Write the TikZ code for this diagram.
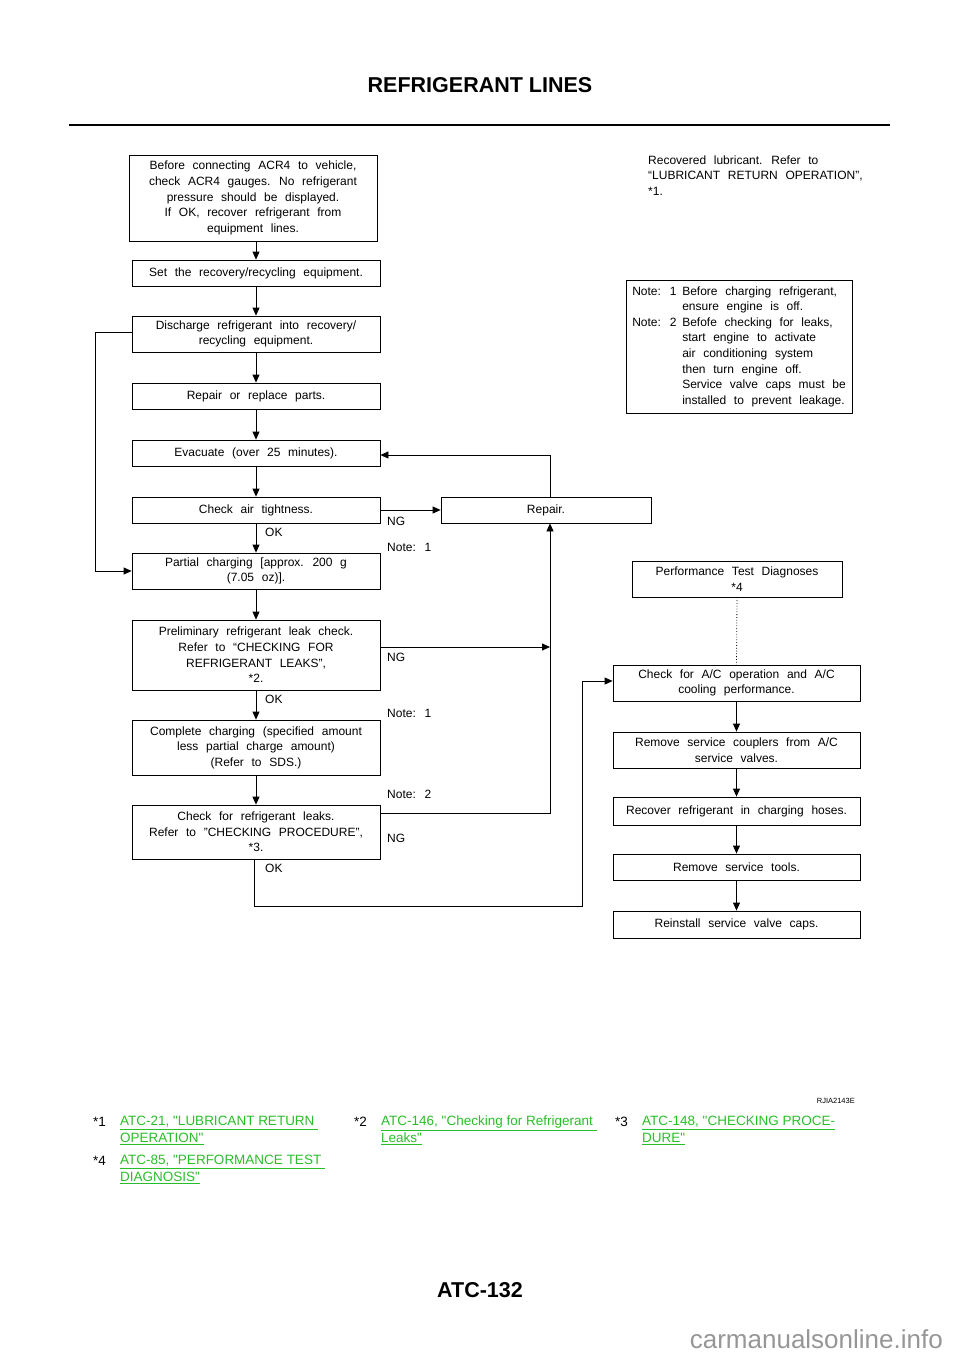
\documentclass[tikz,border=0pt]{standalone}
\usepackage{fontspec}
\setmainfont{Liberation Sans}[WordSpace=2.3]
\newfontfamily\plainfont{Liberation Sans}
\usetikzlibrary{arrows.meta}
\definecolor{linkgreen}{RGB}{40,190,40}
\definecolor{wmgray}{RGB}{150,150,150}
\newcommand\boxfont{\fontsize{12}{15.6}\selectfont}
\newcommand\footfont{\plainfont\fontsize{13.5}{17}\selectfont}
\begin{document}
\begin{tikzpicture}[x=1pt,y=-1pt,
  box/.style={draw, line width=0.8pt, inner sep=2pt, align=center, minimum width=248pt, font=\boxfont},
  rbox/.style={box, minimum width=247pt},
  arr/.style={-{Triangle[length=8pt,width=7pt]}, line width=0.8pt},
  lbl/.style={anchor=west, inner sep=0pt, font=\boxfont},
  foot/.style={anchor=west, inner sep=0pt, align=left, font=\footfont},
  link/.style={foot, text=linkgreen}]
\useasboundingbox (0,0) rectangle (960,1358);

% header
\node[font=\plainfont\bfseries\fontsize{21.5}{24}\selectfont] (title) at (480,85) {REFRIGERANT LINES};
\draw[line width=2.5pt] (69,125) -- (890,125);

% left column
\node[box, minimum height=86pt] (b1) at (253,198) {Before connecting ACR4 to vehicle,\\check ACR4 gauges. No refrigerant\\pressure should be displayed.\\If OK, recover refrigerant from\\equipment lines.};
\node[box, minimum height=26pt] (b2) at (256,273) {Set the recovery/recycling equipment.};
\node[box, minimum height=36pt] (b3) at (256,334) {Discharge refrigerant into recovery/\\recycling equipment.};
\node[box, minimum height=26pt] (b4) at (256,396) {Repair or replace parts.};
\node[box, minimum height=26pt] (b5) at (256,453) {Evacuate (over 25 minutes).};
\node[box, minimum height=26pt] (b6) at (256,510) {Check air tightness.};
\node[box, minimum height=36pt] (b7) at (256,571) {Partial charging [approx. 200 g\\(7.05 oz)].};
\node[box, minimum height=70pt] (b8) at (256,655) {Preliminary refrigerant leak check.\\Refer to “CHECKING FOR\\REFRIGERANT LEAKS”,\\*2.};
\node[box, minimum height=55pt] (b9) at (256,747.5) {Complete charging (specified amount\\less partial charge amount)\\(Refer to SDS.)};
\node[box, minimum height=54pt] (b10) at (256,832) {Check for refrigerant leaks.\\Refer to "CHECKING PROCEDURE",\\*3.};

\node[box, minimum width=210pt, minimum height=26pt] (rep) at (546,510) {Repair.};

% right column
\node[anchor=west, inner sep=0pt, align=left, font=\boxfont] (lub) at (648,175.5) {Recovered lubricant. Refer to\\“LUBRICANT RETURN OPERATION”,\\*1.};
\node[draw, line width=0.8pt, align=left, font=\boxfont, minimum width=226pt, minimum height=133pt, inner sep=0pt] (notes) at (739,346.5) {%
\makebox[50pt][l]{Note: 1}Before charging refrigerant,\\
\hspace*{50pt}ensure engine is off.\\
\makebox[50pt][l]{Note: 2}Befofe checking for leaks,\\
\hspace*{50pt}start engine to activate\\
\hspace*{50pt}air conditioning system\\
\hspace*{50pt}then turn engine off.\\
\hspace*{50pt}Service valve caps must be\\
\hspace*{50pt}installed to prevent leakage.};

\node[box, minimum width=210pt, minimum height=36pt] (perf) at (737,579) {Performance Test Diagnoses\\*4};
\node[rbox, minimum height=36pt] (ac) at (736.5,683) {Check for A/C operation and A/C\\cooling performance.};
\node[rbox, minimum height=36pt] (rsc) at (736.5,750) {Remove service couplers from A/C\\service valves.};
\node[rbox, minimum height=28pt] (rrc) at (736.5,811) {Recover refrigerant in charging hoses.};
\node[rbox, minimum height=26pt] (rst) at (736.5,867) {Remove service tools.};
\node[rbox, minimum height=27pt] (rvc) at (736.5,924.5) {Reinstall service valve caps.};

% labels
\node[lbl] (ok1) at (265,532) {OK};
\node[lbl] (ng1) at (387,521) {NG};
\node[lbl] (n1a) at (387,547) {Note: 1};
\node[lbl] (ng2) at (387,657) {NG};
\node[lbl] (ok2) at (265,699) {OK};
\node[lbl] (n1b) at (387,713) {Note: 1};
\node[lbl] (n2) at (387,794) {Note: 2};
\node[lbl] (ng3) at (387,838) {NG};
\node[lbl] (ok3) at (265,868) {OK};

% connectors left
\draw[arr] (b2.north |- b1.south) -- (b2.north);
\foreach \a/\b in {b2/b3, b3/b4, b4/b5, b5/b6, b6/b7, b7/b8, b8/b9, b9/b10}
  \draw[arr] (\a.south) -- (\b.north);
\draw[arr] ([yshift=2pt]b3.west) -- ++(-36,0) |- (b7.west);
\coordinate (vx) at (550,0);
\draw[arr] (rep.north -| vx) |- ([yshift=-2pt]b5.east);
\draw[arr] (b6.east) -- (rep.west);
\draw[arr] ([yshift=8pt]b8.east) -- ([yshift=8pt]b8.east -| vx);
\draw[arr] ([yshift=19pt]b10.east) -| (rep.south -| vx);
\coordinate (c1) at (582,906);
\draw[arr] ([xshift=-2pt]b10.south) |- (c1) |- ([yshift=2pt]ac.west);

% connectors right
\draw[dotted, line width=0.8pt] (perf.south) -- (ac.north);
\draw[arr] (ac.south) -- (rsc.north);
\draw[arr] (rsc.south) -- (rrc.north);
\draw[arr] (rrc.south) -- (rst.north);
\draw[arr] (rst.south) -- (rvc.north);

% footer
\node[anchor=east, inner sep=0pt, font=\plainfont\fontsize{7.5}{9}\selectfont] (rjia) at (855,1101) {RJIA2143E};
\node[foot] (s1) at (93,1122) {*1};
\node[link] (l1) at (120,1130.5) {\underline{ATC-21, "LUBRICANT RETURN\ }\\\underline{OPERATION"}};
\node[foot] (s2) at (354,1122) {*2};
\node[link] (l2) at (381,1130.5) {\underline{ATC-146, "Checking for Refrigerant\ }\\\underline{Leaks"}};
\node[foot] (s3) at (615,1122) {*3};
\node[link] (l3) at (642,1130.5) {\underline{ATC-148, "CHECKING PROCE-}\\\underline{DURE"}};
\node[foot] (s4) at (93,1161) {*4};
\node[link] (l4) at (120,1169.5) {\underline{ATC-85, "PERFORMANCE TEST\ }\\\underline{DIAGNOSIS"}};

\node[font=\plainfont\bfseries\fontsize{21.5}{24}\selectfont] (page) at (480,1290) {ATC-132};
\node[anchor=base east, inner sep=0pt, text=wmgray, font=\plainfont\fontsize{26}{30}\selectfont] (wm) at (943,1348) {carmanualsonline.info};
\end{tikzpicture}
\end{document}
